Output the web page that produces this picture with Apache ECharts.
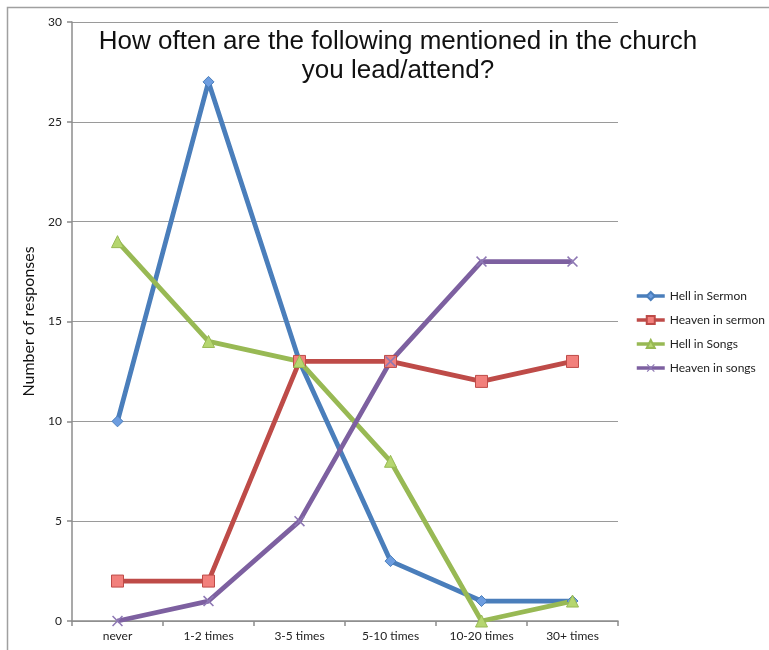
<!DOCTYPE html>
<html>
<head>
<meta charset="utf-8">
<script src="https://cdn.jsdelivr.net/npm/echarts@6/dist/echarts.min.js"></script>
<style>
  html, body { margin: 0; padding: 0; background: #fff; }
  #chart { width: 769px; height: 650px; }
</style>
</head>
<body>
<div id="chart"></div>
<script>
// Frequency buckets and response counts
var categories = ['never', '1-2 times', '3-5 times', '5-10 times', '10-20 times', '30+ times'];
var hellInSermon = [10, 27, 13, 3, 1, 1];
var heavenInSermon = [2, 2, 13, 13, 12, 13];
var hellInSongs = [19, 14, 13, 8, 0, 1];
var heavenInSongs = [0, 1, 5, 13, 18, 18];
var yTicks = { min: 0, max: 30, interval: 5 };

var labelFont = 'Lato, "Open Sans", sans-serif';
var crossPath = 'path://M1,0L5,4L9,0L10,1L6,5L10,9L9,10L5,6L1,10L0,9L4,5L0,1Z';

function lineSeries(name, data, color, symbol, size, fill) {
  return {
    name: name,
    type: 'line',
    data: data,
    symbol: symbol,
    symbolSize: size,
    showAllSymbol: true,
    lineStyle: { color: color, width: 4.8 },
    itemStyle: { color: fill, borderColor: color, borderWidth: symbol === crossPath ? 0 : 1 },
    emphasis: { disabled: true },
    z: 3
  };
}

var chart = echarts.init(document.getElementById('chart'), null, { renderer: 'canvas' });
chart.setOption({
  animation: false,
  backgroundColor: '#ffffff',
  title: {
    text: 'How often are the following mentioned in the church\nyou lead/attend?',
    left: 393,
    top: 22,
    textAlign: 'center',
    textStyle: {
      fontFamily: '"Liberation Sans", Arial, sans-serif',
      fontSize: 26,
      fontWeight: 'normal',
      color: '#111',
      lineHeight: 29
    }
  },
  graphic: [{
    type: 'polyline',
    shape: { points: [[7.5, 700], [7.5, 7.5], [800, 7.5]] },
    style: { stroke: '#a0a0a0', lineWidth: 1.5, fill: null },
    silent: true
  }],
  legend: {
    orient: 'vertical',
    left: 635,
    top: 290,
    padding: 0,
    itemWidth: 28,
    itemHeight: 10,
    itemGap: 12,
    lineStyle: { width: 3.5 },
    textStyle: { fontFamily: labelFont, fontSize: 12, color: '#222' },
    data: ['Hell in Sermon', 'Heaven in sermon', 'Hell in Songs', 'Heaven in songs']
  },
  grid: { left: 72, top: 22, width: 546, height: 599, containLabel: false },
  xAxis: {
    type: 'category',
    data: categories,
    boundaryGap: true,
    axisLine: { lineStyle: { color: '#8c8c8c', width: 1.5 } },
    axisTick: { show: true, length: 5, lineStyle: { color: '#8c8c8c', width: 1.5 } },
    axisLabel: { fontFamily: labelFont, fontSize: 12, color: '#222', margin: 9 },
    splitLine: { show: false }
  },
  yAxis: {
    type: 'value',
    min: yTicks.min,
    max: yTicks.max,
    interval: yTicks.interval,
    name: 'Number of responses',
    nameLocation: 'middle',
    nameGap: 30,
    nameTextStyle: { fontFamily: labelFont, fontSize: 16, color: '#111' },
    axisLine: { show: true, lineStyle: { color: '#8c8c8c', width: 1.5 } },
    axisTick: { show: true, length: 5, lineStyle: { color: '#8c8c8c', width: 1.5 } },
    axisLabel: { fontFamily: labelFont, fontSize: 12, color: '#222', margin: 10 },
    splitLine: { show: true, lineStyle: { color: '#9a9a9a', width: 1.2 } }
  },
  series: [
    lineSeries('Hell in Sermon', hellInSermon, '#4a7ebb', 'diamond', 11, '#6d9de0'),
    lineSeries('Heaven in sermon', heavenInSermon, '#be4b48', 'rect', 12, '#f2807c'),
    lineSeries('Hell in Songs', hellInSongs, '#98b954', 'triangle', 12, '#b5d66f'),
    lineSeries('Heaven in songs', heavenInSongs, '#7d60a0', crossPath, 11, '#8e78b4')
  ]
});
</script>
</body>
</html>
